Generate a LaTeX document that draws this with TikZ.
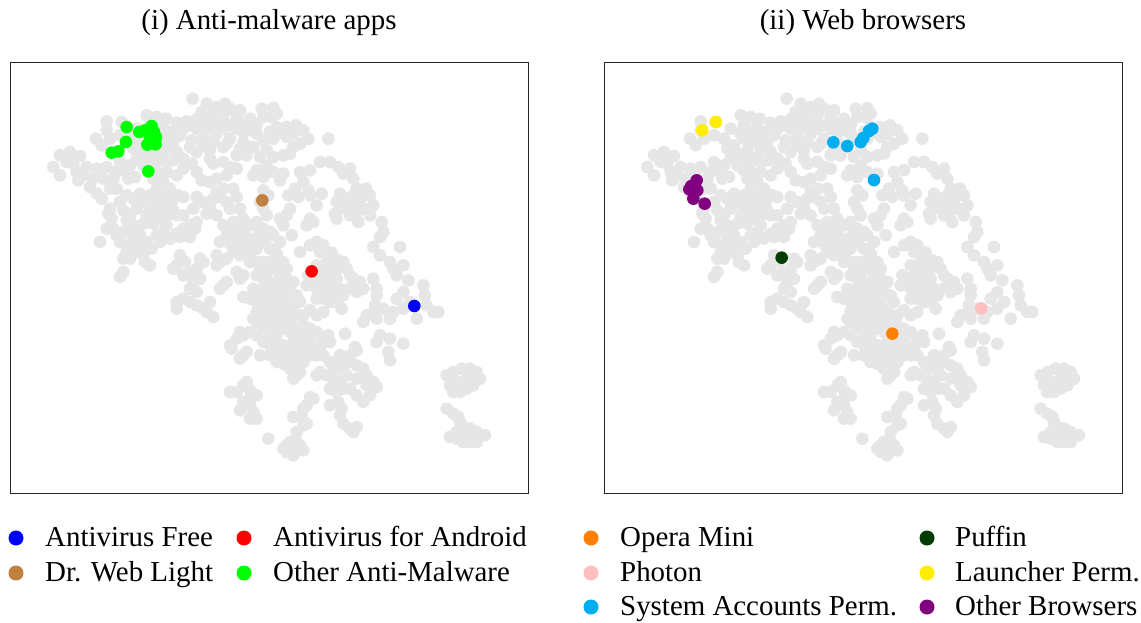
\documentclass[tikz,border=0pt]{standalone}
\usepackage{fontspec}
\setmainfont{Liberation Serif}

\definecolor{cloud}{RGB}{230,230,230}
\definecolor{cBlue}{RGB}{0,0,255}
\definecolor{cRed}{RGB}{255,0,0}
\definecolor{cBrown}{RGB}{191,128,64}
\definecolor{cGreen}{RGB}{0,255,0}
\definecolor{cOrange}{RGB}{255,128,0}
\definecolor{cPink}{RGB}{255,191,191}
\definecolor{cCyan}{RGB}{0,174,239}
\definecolor{cDark}{RGB}{0,60,0}
\definecolor{cYellow}{RGB}{255,238,0}
\definecolor{cPurple}{RGB}{128,0,128}

% embedding coordinates of all apps (shared by both panels), panel units = 1/3 px
\newcommand\cloudpts{%
548/110,590/125,620/135,645/125,660/140,690/145,755/140,790/138,800/155,575/150,610/155,640/160,680/165,720/170,760/165,785/165,
410/160,440/165,468/170,500/182,530/178,560/172,600/175,640/182,700/185,740/188,290/178,335/180,800/195,830/195,858/190,880/205,
895/230,870/245,955/230,380/200,420/190,460/195,520/200,560/200,600/200,640/200,680/200,720/205,
290/205,258/230,275/250,300/230,330/220,360/230,390/250,420/230,450/240,470/225,490/240,510/220,545/235,580/225,620/215,660/230,
700/240,725/255,760/235,790/230,830/225,850/255,400/275,380/290,420/285,460/285,500/270,520/290,560/270,600/265,640/255,690/260,
730/255,770/265,790/285,820/280,840/275,150/280,180/270,210/282,
130/315,150/340,190/305,200/330,205/355,230/315,260/320,290/315,320/330,345/325,355/350,375/345,240/375,260/395,275/410,300/380,
320/380,490/295,520/320,500/340,470/330,440/330,420/325,430/350,460/360,480/380,505/400,520/405,560/330,575/355,545/305,610/305,
640/300,660/315,680/320,650/340,620/350,600/360,740/325,770/310,790/330,760/345,730/340,820/335,810/355,870/330,900/325,930/300,
960/300,985/315,1000/335,1020/320,1030/350,1040/380,880/360,895/385,855/380,835/400,865/405,900/400,935/395,920/430,640/380,670/380,
620/390,760/385,775/400,
990/395,1010/410,1050/420,1068/380,1080/400,1090/430,980/420,1045/445,1005/440,1080/460,1045/480,980/470,975/455,1115/480,390/395,
400/420,420/440,440/420,455/400,465/430,485/420,490/445,470/460,450/470,430/485,410/460,380/440,360/460,350/475,370/490,400/485,
300/440,305/470,310/500,290/500,320/520,340/510,295/455,550/440,560/405,580/420,600/440,610/410,630/405,650/420,680/405,690/440,660/440,
620/460,590/455,750/420,760/440,770/460,840/440,830/460,810/470,820/490,900/470,890/490,910/480,640/490,670/480,700/470,720/490,
740/480,760/500,
270/540,330/540,350/550,370/530,390/520,410/540,425/560,400/580,380/570,350/570,340/590,360/590,405/600,420/610,450/540,480/530,
500/515,520/500,540/490,560/480,555/500,530/520,510/525,540/525,845/520,1120/510,1110/525,1090/555,1170/555,630/540,650/520,780/510,
700/510,680/520,730/530,760/540,790/520,810/540,740/560,720/580,780/560,800/575,870/570,900/550,920/540,940/550,965/572,985/595,
950/600,920/610,510/580,525/600,500/610,490/620,520/640,540/630,560/620,570/590,580/600,620/580,630/600,620/610,650/590,670/570,
690/580,700/570,
1110/580,1140/600,1150/620,1160/640,1180/610,1195/655,340/630,330/645,570/650,550/660,540/680,560/690,895/640,910/660,890/670,
920/680,940/690,960/680,970/700,1000/600,1010/620,1020/640,800/580,820/600,830/620,810/640,790/620,760/600,750/620,740/640,760/650,
780/660,800/670,820/680,840/690,680/630,700/640,690/650,630/680,640/670,650/660,1030/650,1050/660,1020/680,1040/690,1060/680,
1090/650,1100/680,1100/700,1240/670,1245/700,1180/690,
860/700,870/720,850/740,830/730,810/720,790/710,770/700,750/690,730/680,700/705,720/710,740/720,760/730,780/740,760/750,740/750,
750/770,500/720,520/710,540/720,560/730,580/740,600/720,590/750,610/765,500/740,860/760,880/760,900/745,920/760,940/750,920/710,
940/710,960/720,995/740,820/770,840/780,800/790,780/800,760/800,740/780,730/770,1250/730,1270/750,1285/750,1220/770,1160/710,
1200/720,1180/740,1150/750,1120/740,1095/745,1070/760,1060/780,1100/770,1140/770,1095/730,
880/790,900/800,920/810,940/830,955/820,960/840,930/860,920/880,940/880,900/860,860/820,850/840,840/860,860/870,880/860,870/880,
850/890,830/880,810/870,800/820,780/830,760/840,740/820,720/810,700/820,690/810,680/830,660/850,665/860,1005/815,1110/820,1100/840,
1140/830,1135/870,1140/895,1180/845,1035/855,1040/865,1020/880,990/880,985/900,750/880,780/880,800/900,820/905,840/890,860/900,
700/880,710/870,690/890,
970/920,960/900,1000/925,1020/900,1040/910,1060/920,1070/940,1040/950,1010/940,990/960,970/950,950/940,930/930,920/940,850/920,
860/940,850/950,870/930,960/980,980/990,1000/980,1020/980,1040/1000,1060/1020,1080/1000,1100/975,1090/960,1070/970,900/1005,910/1010,
660/990,680/990,700/970,710/960,720/985,740/1000,
1310/940,1330/930,1355/920,1380/920,1400/930,1410/950,1390/970,1370/980,1350/990,1330/990,1320/970,1340/960,1370/950,1360/970,1385/945,
960/1030,985/1020,995/1040,990/1060,1000/1085,1040/1095,1030/1110,1020/1100,890/1030,880/1040,875/1060,890/1085,880/1090,850/1065,
860/1110,775/1130,830/1150,850/1160,870/1150,880/1165,830/1170,850/1180,820/1160,860/1140,840/1140,720/1010,700/1020,720/1030,
730/1050,740/1070,720/1070,690/1045,1310/1040,1330/1055,1345/1065,1350/1080,1360/1095,1380/1100,1400/1110,1425/1120,1400/1140,
1380/1140,1360/1140,1340/1130,1320/1125,1340/1110,1360/1110,1370/1120,
480/210,540/190,580/185,620/190,660/190,700/210,740/215,780/210,810/210,850/215,440/205,410/215,370/260,430/265,470/260,540/255,
580/250,610/240,650/245,680/280,710/280,750/285,600/290,470/300,440/300,400/310,360/310,330/300,310/350,280/350,250/350,220/340,
170/300,350/400,370/410,330/420,340/445,
420/400,440/380,470/400,500/460,520/460,440/450,420/470,360/510,380/500,440/520,460/510,470/490,380/550,400/560,
720/600,740/600,780/600,770/630,800/610,830/650,850/660,850/700,820/700,800/700,780/690,760/680,760/720,800/740,820/750,840/760,
800/760,780/770,760/780,820/800,840/810,860/800,880/820,900/830,910/850,880/840,800/850,820/850,780/850,900/880,880/900,840/920,
820/880,930/570,960/600,940/620,930/640,960/640,980/650,990/680,950/660,930/660,980/620,1000/700,980/720,
660/500,690/495,710/530,690/540,660/545,750/510,770/525,720/545,1020/430,1030/400,1060/440,1060/400,1020/460}

\tikzset{
  txt/.style={font=\fontsize{28.9}{34}\selectfont, inner sep=0pt},
  ttl/.style={txt, anchor=base},
  legtxt/.style={txt, anchor=base west},
  legdot/.style={circle, inner sep=0pt, minimum size=15pt, draw=none},
  panel/.style={draw=black!85, line width=0.9pt, minimum width=518pt, minimum height=431pt, inner sep=0pt},
  pt/.style={radius=6.3pt}
}

\begin{document}
\begin{tikzpicture}[x=1pt,y=-1pt]
\useasboundingbox (0,0) rectangle (1141,622);
\fill[white] (0,0) rectangle (1141,622);

% two panels with the same embedding
\foreach \dx/\nm in {10/A,604/B}{
  \begin{scope}[shift={(\dx,62)}]
    \begin{scope}[x=0.33333pt,y=-0.33333pt]
      \foreach \a/\b in \cloudpts {\fill[cloud] (\a,\b) circle[pt];}
    \end{scope}
  \end{scope}
  \node[panel] (panel\nm) at (\dx+259,277.5) {};
}

% highlighted apps, left panel
\begin{scope}[shift={(10,62)}]
  \begin{scope}[x=0.33333pt,y=-0.33333pt]
    \foreach \a/\b in {350/195,388/210,405/205,425/192,432/210,420/225,438/225,412/248,437/247,348/240,325/268,305/272,415/328}
      {\fill[cGreen] (\a,\b) circle[pt];}
    \fill[cBrown] (757,415) circle[pt];
    \fill[cRed] (905,628) circle[pt];
    \fill[cBlue] (1213,732) circle[pt];
  \end{scope}
\end{scope}

% highlighted apps, right panel
\begin{scope}[shift={(604,62)}]
  \begin{scope}[x=0.33333pt,y=-0.33333pt]
    \foreach \a/\b in {295/205,336/180} {\fill[cYellow] (\a,\b) circle[pt];}
    \foreach \a/\b in {688/241,730/252,770/240,778/228,795/207,805/200,810/354} {\fill[cCyan] (\a,\b) circle[pt];}
    \foreach \a/\b in {278/355,262/372,256/382,280/385,268/410,302/425} {\fill[cPurple] (\a,\b) circle[pt];}
    \fill[cDark] (533,587) circle[pt];
    \fill[cPink] (1132,739) circle[pt];
    \fill[cOrange] (865,815) circle[pt];
  \end{scope}
\end{scope}

% titles
\node[ttl] (titleA) at (269,29) {(i) Anti-malware apps};
\node[ttl] (titleB) at (863,29) {(ii) Web browsers};

% legend, left
\node[legdot, fill=cBlue]  (kAfree) at (16,538) {};
\node[legtxt] (lAfree) at (45,546) {Antivirus Free};
\node[legdot, fill=cRed]   (kAand) at (244,538) {};
\node[legtxt] (lAand) at (273,546) {Antivirus for Android};
\node[legdot, fill=cBrown] (kDr) at (16,573) {};
\node[legtxt] (lDr) at (45,581) {Dr. Web Light};
\node[legdot, fill=cGreen] (kOam) at (244,573) {};
\node[legtxt] (lOam) at (273,581) {Other Anti-Malware};

% legend, right
\node[legdot, fill=cOrange] (kOp) at (591,538) {};
\node[legtxt] (lOp) at (620,546) {Opera Mini};
\node[legdot, fill=cDark] (kPu) at (927,538) {};
\node[legtxt] (lPu) at (955,546) {Puffin};
\node[legdot, fill=cPink] (kPh) at (591,573) {};
\node[legtxt] (lPh) at (620,581) {Photon};
\node[legdot, fill=cYellow] (kLa) at (927,573) {};
\node[legtxt] (lLa) at (955,581) {Launcher Perm.};
\node[legdot, fill=cCyan] (kSy) at (591,607) {};
\node[legtxt] (lSy) at (620,615) {System Accounts Perm.};
\node[legdot, fill=cPurple] (kOb) at (927,607) {};
\node[legtxt] (lOb) at (955,615) {Other Browsers};
\end{tikzpicture}
\end{document}
